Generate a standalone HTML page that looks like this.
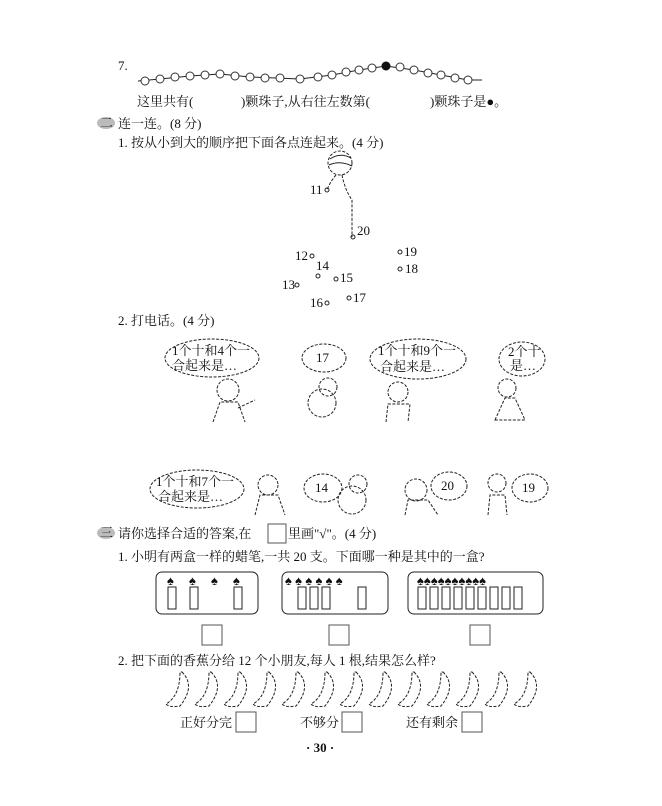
<!DOCTYPE html>
<html><head><meta charset="utf-8"><style>
html,body{margin:0;padding:0;background:#fff;}
svg{display:block}
text{font-family:"Liberation Serif","Noto Serif CJK SC",serif;fill:#111;font-size:13px}
.d{fill:none;stroke:#222;stroke-width:1;stroke-dasharray:3 1.5}
.s{fill:none;stroke:#222;stroke-width:1}
.b{fill:#fff;stroke:#333;stroke-width:1}
.sq{fill:#fff;stroke:#555;stroke-width:1}
</style></head><body>
<svg width="662" height="806" viewBox="0 0 662 806">
<rect width="662" height="806" fill="#fff"/>
<text x="118" y="70">7.</text>
<!-- beads -->
<polyline class="s" points="138,81 160,79 190,76 220,74 250,77 300,79 332,75 359,70 386,66 414,70 441,75 468,80 482,80"/>
<g class="b">
<circle cx="145" cy="81" r="4"/><circle cx="160" cy="79" r="4"/><circle cx="175" cy="77" r="4"/><circle cx="190" cy="76" r="4"/><circle cx="205" cy="75" r="4"/><circle cx="220" cy="74" r="4"/><circle cx="235" cy="76" r="4"/><circle cx="250" cy="77" r="4"/><circle cx="265" cy="78" r="4"/><circle cx="280" cy="78" r="4"/><circle cx="300" cy="79" r="4"/><circle cx="318" cy="77" r="4"/><circle cx="332" cy="75" r="4"/><circle cx="346" cy="72" r="4"/><circle cx="359" cy="70" r="4"/><circle cx="372" cy="68" r="4"/><circle cx="400" cy="67" r="4"/><circle cx="414" cy="70" r="4"/><circle cx="428" cy="73" r="4"/><circle cx="441" cy="75" r="4"/><circle cx="455" cy="78" r="4"/><circle cx="468" cy="80" r="4"/>
</g>
<circle cx="386" cy="66" r="4.5" fill="#111"/>
<text x="137" y="106">这里共有(</text>
<text x="241" y="106">)颗珠子,从右往左数第(</text>
<text x="430" y="106">)颗珠子是●。</text>
<!-- section 2 -->
<ellipse cx="106" cy="123" rx="9" ry="6" fill="#bbb"/><text x="100" y="127" font-size="11">二</text>
<text x="118" y="128">连一连。(8 分)</text>
<text x="118" y="147">1. 按从小到大的顺序把下面各点连起来。(4 分)</text>
<circle class="d" cx="340" cy="163" r="12"/>
<path class="s" d="M330,159 Q340,152 351,158 M329,165 Q340,160 352,166"/>
<path class="d" d="M336,175 Q330,182 327,190 M342,175 Q345,190 352,200 L352,237"/>
<g font-size="12">
<circle class="s" cx="327" cy="190" r="2"/><text x="310" y="194">11</text>
<circle class="s" cx="353" cy="237" r="2"/><text x="357" y="235">20</text>
<circle class="s" cx="312" cy="256" r="2"/><text x="295" y="260">12</text>
<circle class="s" cx="318" cy="276" r="2"/><text x="316" y="270">14</text>
<circle class="s" cx="297" cy="285" r="2"/><text x="282" y="289">13</text>
<circle class="s" cx="336" cy="279" r="2"/><text x="340" y="282">15</text>
<circle class="s" cx="327" cy="303" r="2"/><text x="310" y="307">16</text>
<circle class="s" cx="349" cy="298" r="2"/><text x="353" y="302">17</text>
<circle class="s" cx="400" cy="252" r="2"/><text x="404" y="256">19</text>
<circle class="s" cx="400" cy="269" r="2"/><text x="405" y="273">18</text>
</g>
<text x="118" y="325">2. 打电话。(4 分)</text>
<!-- row 1 bubbles -->
<g font-size="11">
<ellipse class="d" cx="212" cy="358" rx="47" ry="19"/><text x="172" y="355">1个十和4个一</text><text x="172" y="370">合起来是…</text>
<ellipse class="d" cx="324" cy="358" rx="22" ry="14"/><text x="316" y="362">17</text>
<ellipse class="d" cx="418" cy="359" rx="48" ry="20"/><text x="378" y="355">1个十和9个一</text><text x="380" y="371">合起来是…</text>
<ellipse class="d" cx="522" cy="359" rx="23" ry="17"/><text x="508" y="356">2个十</text><text x="510" y="370">是…</text>
<ellipse class="d" cx="197" cy="489" rx="47" ry="19"/><text x="156" y="486">1个十和7个一</text><text x="158" y="501">合起来是…</text>
<ellipse class="d" cx="323" cy="488" rx="19" ry="14"/><text x="315" y="492">14</text>
<ellipse class="d" cx="449" cy="486" rx="18" ry="14"/><text x="441" y="490">20</text>
<ellipse class="d" cx="530" cy="488" rx="18" ry="14"/><text x="522" y="492">19</text>
</g>
<!-- figures -->
<g class="d">
<circle cx="228" cy="390" r="11"/><path d="M213,422 L220,402 L238,402 L245,422 M238,408 L255,400"/>
<circle cx="328" cy="387" r="9"/><circle cx="322" cy="403" r="14"/>
<circle cx="398" cy="392" r="10"/><path d="M386,422 L388,404 L410,404 L408,422"/>
<circle cx="507" cy="388" r="9"/><path d="M495,420 L505,398 L515,398 L525,420 Z"/>
<circle cx="268" cy="485" r="10"/><path d="M255,515 L260,495 L278,495 L285,515"/>
<circle cx="358" cy="484" r="9"/><circle cx="352" cy="500" r="14"/>
<circle cx="416" cy="490" r="11"/><path d="M405,515 L408,500 L428,500 L438,515"/>
<circle cx="497" cy="483" r="9"/><path d="M488,515 L490,495 L505,495 L507,515"/>
</g>
<!-- section 3 -->
<ellipse cx="106" cy="533" rx="9" ry="6" fill="#bbb"/><text x="100" y="537" font-size="11">三</text>
<text x="118" y="538">请你选择合适的答案,在</text>
<rect class="sq" x="268" y="524" width="18" height="19"/>
<text x="288" y="538">里画"√"。(4 分)</text>
<text x="118" y="561">1. 小明有两盒一样的蜡笔,一共 20 支。下面哪一种是其中的一盒?</text>
<rect x="156" y="572" width="102" height="42" rx="6" class="s" stroke-width="1.5"/>
<rect x="282" y="572" width="106" height="42" rx="6" class="s" stroke-width="1.5"/>
<rect x="408" y="572" width="135" height="42" rx="6" class="s" stroke-width="1.5"/>
<g class="s">
<rect x="168" y="587" width="8" height="22"/><rect x="190" y="587" width="8" height="22"/><rect x="234" y="587" width="8" height="22"/>
<rect x="298" y="587" width="8" height="22"/><rect x="310" y="587" width="8" height="22"/><rect x="322" y="587" width="8" height="22"/><rect x="358" y="587" width="8" height="22"/>
<rect x="418" y="587" width="8" height="22"/><rect x="430" y="587" width="8" height="22"/><rect x="442" y="587" width="8" height="22"/><rect x="454" y="587" width="8" height="22"/><rect x="466" y="587" width="8" height="22"/><rect x="478" y="587" width="8" height="22"/><rect x="490" y="587" width="8" height="22"/><rect x="502" y="587" width="8" height="22"/><rect x="514" y="587" width="8" height="22"/>
</g>
<g font-size="10"><text x="167" y="585">♠</text><text x="189" y="585">♠</text><text x="211" y="585">♠</text><text x="233" y="585">♠</text>
<text x="285" y="585">♠ ♠ ♠ ♠ ♠ ♠</text><text x="417" y="585">♠♠♠♠♠♠♠♠♠♠</text></g>
<rect class="sq" x="202" y="625" width="20" height="20"/>
<rect class="sq" x="329" y="625" width="20" height="20"/>
<rect class="sq" x="470" y="625" width="20" height="20"/>
<text x="118" y="665">2. 把下面的香蕉分给 12 个小朋友,每人 1 根,结果怎么样?</text>
<g class="d">
<path id="bn" d="M182,672 Q196,686 180,706 Q170,708 166,704 Q180,696 180,672 Z"/>
<use href="#bn" x="29"/><use href="#bn" x="58"/><use href="#bn" x="87"/><use href="#bn" x="116"/><use href="#bn" x="145"/><use href="#bn" x="174"/><use href="#bn" x="203"/><use href="#bn" x="232"/><use href="#bn" x="261"/><use href="#bn" x="290"/><use href="#bn" x="319"/><use href="#bn" x="348"/>
</g>
<text x="180" y="727">正好分完</text><rect class="sq" x="236" y="712" width="20" height="20"/>
<text x="300" y="727">不够分</text><rect class="sq" x="342" y="712" width="20" height="20"/>
<text x="406" y="727">还有剩余</text><rect class="sq" x="462" y="712" width="20" height="20"/>
<text x="306" y="752" font-weight="bold" font-size="14">·  30  ·</text>
</svg>
</body></html>
